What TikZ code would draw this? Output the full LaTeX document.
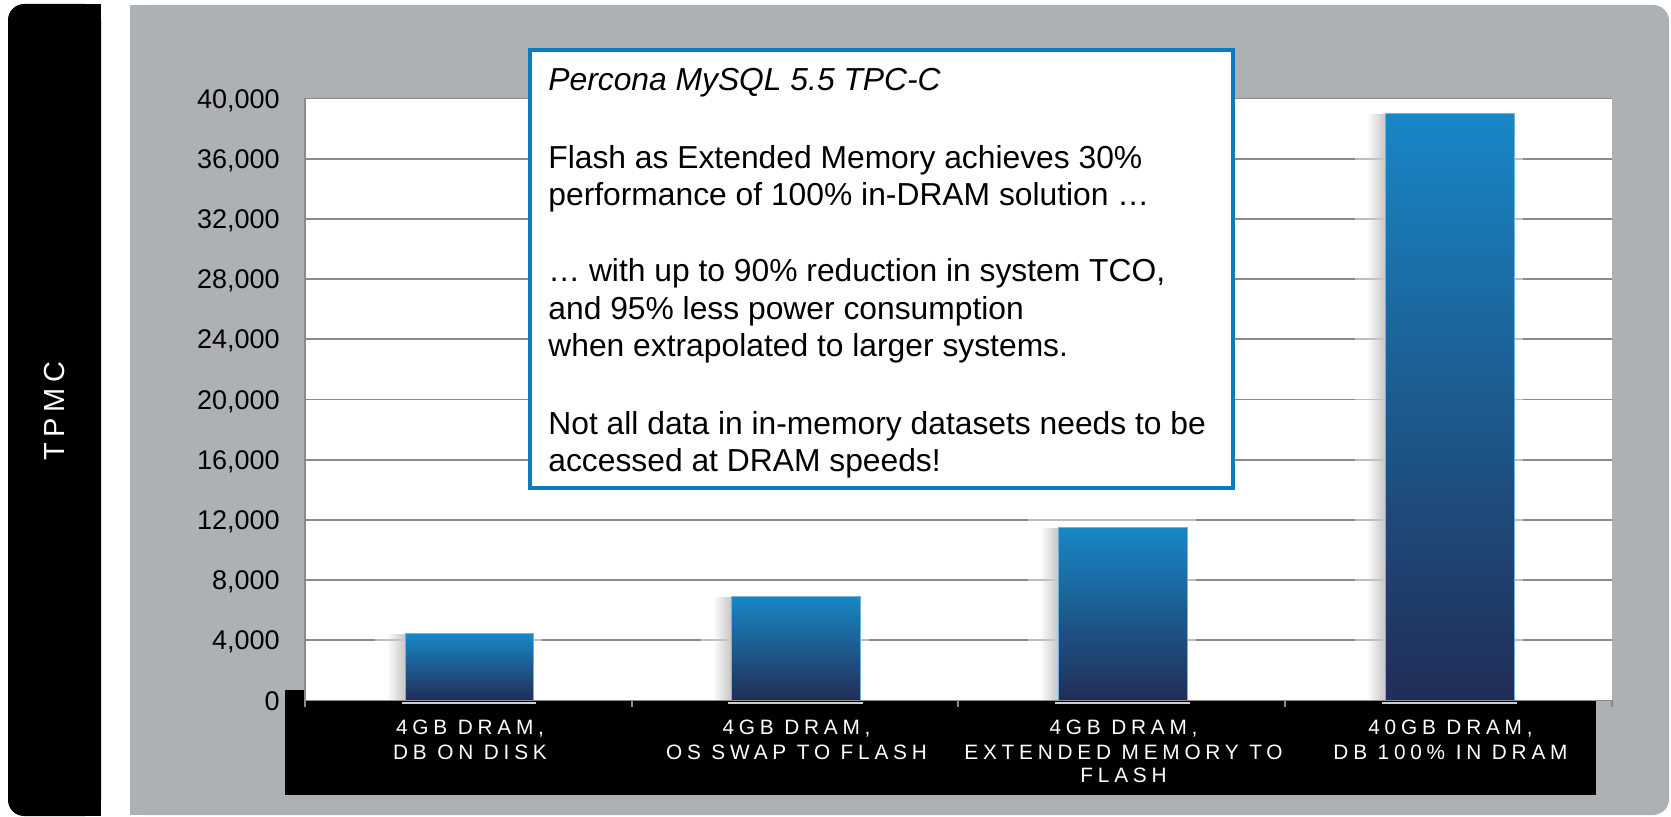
\documentclass[tikz,border=0pt]{standalone}
\usepackage{fontspec}
\setmainfont{Liberation Sans}
\newfontfamily\catfont[LetterSpace=23]{Liberation Sans}
\newfontfamily\tpmcfont[LetterSpace=20]{Liberation Sans}
\usetikzlibrary{fadings}

\definecolor{panelgray}{RGB}{174,177,180}
\definecolor{gridgray}{RGB}{138,138,138}
\definecolor{bartop}{RGB}{24,135,198}
\definecolor{barbot}{RGB}{33,45,86}
\definecolor{barrim}{RGB}{110,180,225}
\definecolor{boxblue}{RGB}{10,125,194}
\definecolor{underline}{RGB}{205,205,205}

% soft shadow: transparent on the left, opaque on the right
\tikzfading[name=shadowfade, left color=transparent!100, right color=transparent!0]

\begin{document}
\begin{tikzpicture}[x=0.5pt,y=-0.5pt,
  gridline/.style={draw=gridgray,line width=0.9pt},
  ylabel/.style={anchor=base east,inner sep=0pt,font=\fontsize{13.5pt}{16pt}\selectfont},
  catlabel/.style={anchor=base,inner sep=0pt,text=white,font=\catfont\fontsize{10.4pt}{12pt}\selectfont},
  boxline/.style={anchor=base west,inner sep=0pt,font=\fontsize{15.9pt}{19pt}\selectfont},
  barfill/.style={draw=barrim,line width=0.5pt,top color=bartop,bottom color=barbot}]

\useasboundingbox (0,0) rectangle (1671,817);
\fill[white] (0,0) rectangle (1671,817);

% left title strip, rounded on its outer side
\fill[black,rounded corners=8pt] (8,4) rectangle (101,816);
\fill[black] (60,4) rectangle (101,816);
\node[rotate=90,text=white,inner sep=0pt,font=\tpmcfont\fontsize{14.5pt}{17pt}\selectfont] (tpmc) at (55,411) {TPMC};

% grey chart panel, rounded on its right side
\fill[panelgray,rounded corners=8pt] (130,5) rectangle (1669,815);
\fill[panelgray] (130,5) rectangle (1000,815);

% black band holding the category names
\fill[black] (285,690) rectangle (1596,795);

% plot area
\fill[white] (305,98.5) rectangle (1612,700.5);
\foreach \k in {1,...,10}
  \draw[gridline] (305,700.5-60.2*\k) -- (1612,700.5-60.2*\k);
\draw[gridline] (305,98.5) -- (305,700.5);

% bars with glow, left shadow and base highlight
\foreach \l/\r/\t in {405/533/634, 731/860/597, 1058/1187/528, 1385/1514/114} {
  \fill[white,opacity=0.45] (\l-30,\t-10) rectangle (\r+9,700);
  \fill[black!22,path fading=shadowfade] (\l-18,\t) rectangle (\l,700);
  \draw[barfill] (\l,\t) rectangle (\r,700.5);
  \draw[underline,line width=1pt] (\l-3,703.5) -- (\r+3,703.5);
}

% category axis with ticks
\draw[gridline] (305,700.5) -- (1612,700.5);
\foreach \x in {305,632,958,1285,1612}
  \draw[gridline] (\x,700.5) -- (\x,707);

% value axis labels
\foreach \v [count=\k from 0] in {0,{4,000},{8,000},{12,000},{16,000},{20,000},{24,000},{28,000},{32,000},{36,000},{40,000}}
  \node[ylabel] (y\k) at (280,710.2-60.2*\k) {\v};

% category names
\node[catlabel] (c1a) at (470,734) {4GB DRAM,};
\node[catlabel] (c1b) at (470,759) {DB ON DISK};
\node[catlabel] (c2a) at (796.5,734) {4GB DRAM,};
\node[catlabel] (c2b) at (796.5,759) {OS SWAP TO FLASH};
\node[catlabel] (c3a) at (1123.5,734) {4GB DRAM,};
\node[catlabel] (c3b) at (1123.5,759) {EXTENDED MEMORY TO};
\node[catlabel] (c3c) at (1123.5,783) {FLASH};
\node[catlabel] (c4a) at (1450.5,734) {40GB DRAM,};
\node[catlabel] (c4b) at (1450.5,759) {DB 100\% IN DRAM};

% call-out box
\draw[boxblue,line width=2pt,fill=white] (530,50) rectangle (1233,488);
\node[boxline,font=\itshape\fontsize{15.9pt}{19pt}\selectfont] (t1) at (548,91) {Percona MySQL 5.5 TPC-C};
\node[boxline] (t2) at (548,168.5) {Flash as Extended Memory achieves 30\%};
\node[boxline] (t3) at (548,206) {performance of 100\% in-DRAM solution …};
\node[boxline] (t4) at (548,282) {… with up to 90\% reduction in system TCO,};
\node[boxline] (t5) at (548,319.5) {and 95\% less power consumption};
\node[boxline] (t6) at (548,357) {when extrapolated to larger systems.};
\node[boxline] (t7) at (548,434.5) {Not all data in in-memory datasets needs to be};
\node[boxline] (t8) at (548,472) {accessed at DRAM speeds!};
\end{tikzpicture}
\end{document}
